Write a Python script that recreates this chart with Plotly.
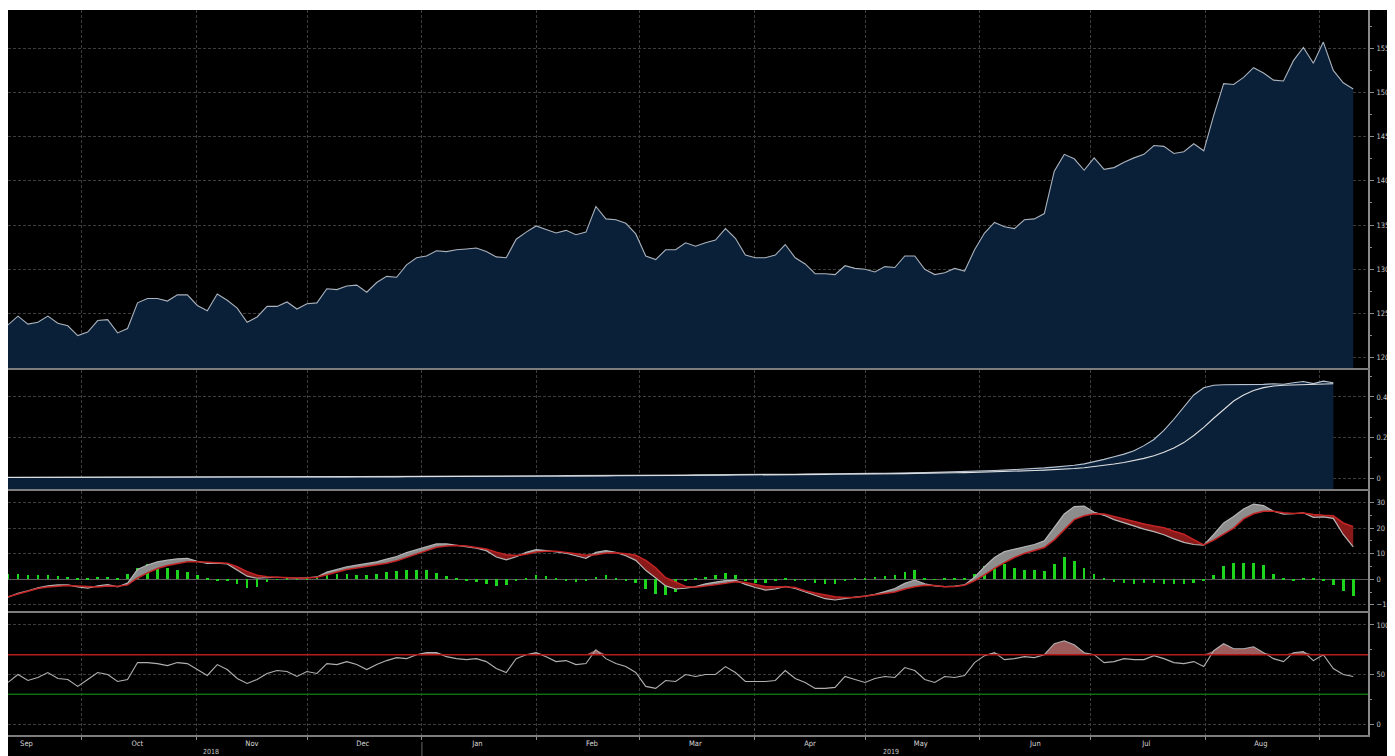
import numpy as np
import pandas as pd
import plotly.graph_objects as go
from plotly.subplots import make_subplots

# ---------------- data ----------------
start_date = "2018-09-11"
end_date = "2019-09-10"

price = [
    1237, 1247, 1238, 1240, 1247, 1239, 1236, 1225, 1229, 1242,
    1243, 1228, 1233, 1262, 1267, 1267, 1264, 1271, 1271, 1259,
    1253, 1272, 1265, 1256, 1240, 1246, 1258, 1258, 1263, 1255,
    1261, 1262, 1278, 1277, 1281, 1282, 1274, 1285, 1292, 1291,
    1305, 1313, 1315, 1321, 1320, 1322, 1323, 1324, 1320, 1314,
    1313, 1334, 1342, 1349, 1345, 1341, 1344, 1339, 1342, 1371,
    1357, 1356, 1352, 1340, 1315, 1311, 1322, 1322, 1330, 1326,
    1330, 1333, 1346, 1335, 1316, 1313, 1313, 1316, 1328, 1313,
    1306, 1295, 1295, 1294, 1304, 1301, 1300, 1297, 1303, 1302,
    1315, 1315, 1300, 1294, 1296, 1301, 1298, 1322, 1341, 1353,
    1348, 1346, 1356, 1357, 1363, 1411, 1430, 1425, 1412, 1426,
    1413, 1415, 1421, 1426, 1430, 1440, 1439, 1431, 1433, 1442,
    1434, 1474, 1510, 1509, 1517, 1528, 1522, 1514, 1513, 1536,
    1551, 1533, 1557, 1525, 1511, 1504,
]

volume_m = [
    0.004, 0.004, 0.004, 0.004, 0.004, 0.005, 0.005, 0.005, 0.005, 0.005,
    0.005, 0.005, 0.005, 0.005, 0.005, 0.005, 0.006, 0.006, 0.006, 0.006,
    0.006, 0.006, 0.006, 0.006, 0.006, 0.006, 0.007, 0.007, 0.007, 0.007,
    0.007, 0.007, 0.007, 0.007, 0.007, 0.008, 0.008, 0.008, 0.008, 0.008,
    0.008, 0.008, 0.009, 0.009, 0.009, 0.009, 0.009, 0.010, 0.010, 0.010,
    0.010, 0.010, 0.011, 0.011, 0.011, 0.011, 0.012, 0.012, 0.012, 0.012,
    0.013, 0.013, 0.013, 0.014, 0.014, 0.014, 0.015, 0.015, 0.015, 0.016,
    0.016, 0.016, 0.017, 0.017, 0.017, 0.018, 0.018, 0.019, 0.019, 0.019,
    0.020, 0.020, 0.021, 0.021, 0.022, 0.022, 0.023, 0.023, 0.024, 0.024,
    0.025, 0.026, 0.027, 0.028, 0.029, 0.030, 0.031, 0.033, 0.035, 0.037,
    0.039, 0.041, 0.044, 0.047, 0.050, 0.054, 0.058, 0.063, 0.070, 0.080,
    0.092, 0.105, 0.118, 0.135, 0.160, 0.190, 0.235, 0.290, 0.350, 0.410,
    0.445, 0.458, 0.460, 0.460, 0.461, 0.460, 0.462, 0.465, 0.463, 0.470,
    0.476, 0.466, 0.478, 0.470,
]

volume_ma_m = [
    0.003, 0.003, 0.003, 0.003, 0.003, 0.003, 0.003, 0.003, 0.003, 0.003,
    0.004, 0.004, 0.004, 0.004, 0.004, 0.004, 0.004, 0.004, 0.004, 0.004,
    0.005, 0.005, 0.005, 0.005, 0.005, 0.005, 0.005, 0.005, 0.005, 0.005,
    0.006, 0.006, 0.006, 0.006, 0.006, 0.006, 0.006, 0.006, 0.006, 0.006,
    0.007, 0.007, 0.007, 0.007, 0.007, 0.007, 0.007, 0.007, 0.007, 0.007,
    0.008, 0.008, 0.008, 0.009, 0.009, 0.009, 0.009, 0.010, 0.010, 0.010,
    0.010, 0.011, 0.011, 0.011, 0.012, 0.012, 0.012, 0.013, 0.013, 0.013,
    0.014, 0.014, 0.014, 0.015, 0.015, 0.015, 0.016, 0.016, 0.016, 0.017,
    0.017, 0.018, 0.018, 0.019, 0.019, 0.020, 0.020, 0.021, 0.021, 0.022,
    0.022, 0.023, 0.023, 0.024, 0.025, 0.026, 0.027, 0.028, 0.029, 0.030,
    0.032, 0.033, 0.035, 0.037, 0.039, 0.041, 0.044, 0.047, 0.051, 0.056,
    0.062, 0.069, 0.077, 0.086, 0.097, 0.110, 0.127, 0.148, 0.175, 0.210,
    0.250, 0.295, 0.340, 0.380, 0.410, 0.432, 0.446, 0.454, 0.458, 0.460,
    0.462, 0.463, 0.464, 0.465,
]

macd = [
    -7.0, -5.5, -4.5, -3.3, -2.6, -2.2, -2.2, -3.0, -3.5, -2.6,
    -2.1, -3.0, -1.5, 3.8, 5.6, 6.8, 7.5, 8.0, 8.2, 7.0,
    6.2, 6.3, 6.0, 3.6, 1.2, 0.4, 0.7, 0.8, 0.6, 0.4,
    0.6, 0.9, 2.8, 4.0, 4.9, 5.5, 6.1, 6.8, 7.9, 8.9,
    10.4, 11.6, 12.8, 13.8, 13.8, 13.3, 12.9, 12.2, 11.2, 8.7,
    7.6, 8.8, 10.5, 11.6, 11.2, 10.8, 10.2, 9.2, 8.2, 10.5,
    11.2, 10.5, 9.2, 7.4, 3.5, 0.5, -2.6, -3.8, -3.5, -2.9,
    -1.8, -1.1, -0.5, -0.4, -2.0, -3.2, -4.2, -3.8, -2.8, -3.6,
    -5.0, -6.3, -7.6, -8.1, -7.4, -7.0, -6.6, -5.9, -4.8, -3.6,
    -1.6, -0.3, -1.8, -2.6, -2.9, -2.7, -2.2, 0.8, 4.9, 8.5,
    10.8, 11.8, 12.7, 13.6, 15.0, 20.5, 25.5, 28.4, 28.6, 26.2,
    25.0, 23.3, 22.0, 20.6, 19.6, 18.6, 17.4, 15.8, 14.4, 13.6,
    13.3, 17.5, 22.0, 24.5, 27.5, 29.4, 28.8, 26.6, 25.5, 25.6,
    26.0, 24.2, 24.4, 23.8, 17.5, 12.7,
]

signal = [
    -6.8, -5.8, -4.8, -3.6, -3.0, -2.6, -2.4, -2.6, -2.9, -3.0,
    -2.6, -2.7, -2.2, 0.5, 2.5, 4.2, 5.4, 6.2, 6.8, 6.8,
    6.6, 6.5, 6.3, 4.9, 3.0, 1.6, 1.0, 0.8, 0.6, 0.5,
    0.5, 0.8, 1.8, 2.7, 3.8, 4.4, 5.0, 5.5, 6.3, 7.2,
    8.5, 9.8, 11.2, 12.5, 13.0, 13.2, 13.0, 12.4, 11.8, 10.6,
    9.6, 9.3, 9.8, 10.7, 11.0, 11.0, 10.6, 10.0, 9.4, 9.6,
    10.3, 10.4, 10.0, 9.4, 7.4, 4.5, 0.6, -1.2, -2.8, -3.1,
    -2.6, -2.3, -1.6, -1.0, -1.3, -2.0, -2.8, -3.0, -2.9, -3.2,
    -4.5, -5.4, -6.2, -6.8, -7.1, -7.1, -6.6, -6.1, -5.5, -5.0,
    -3.8, -2.9, -2.3, -2.4, -2.9, -2.8, -2.3, -0.6, 1.7, 4.3,
    6.5, 8.5, 10.1, 11.3, 12.4, 15.4, 19.5, 23.3, 24.8, 25.6,
    25.5, 24.5, 23.5, 22.6, 21.6, 20.8, 20.1, 18.8, 17.6, 15.5,
    13.4, 15.3, 17.8, 20.0, 23.6, 25.6, 26.6, 26.6, 26.0, 25.7,
    25.9, 25.3, 25.0, 24.8, 22.0, 20.5,
]

histogram = [
    2.0, 2.0, 1.8, 1.8, 1.6, 1.2, 0.8, 0.3, 0.5, 0.8,
    1.0, 0.3, 2.0, 4.5, 5.8, 5.2, 4.4, 3.6, 2.8, 1.5,
    0.2, -0.3, -0.5, -1.8, -3.4, -3.0, -1.2, -0.2, 0.2, 0.2,
    0.3, 0.8, 1.8, 2.2, 2.0, 1.6, 1.8, 2.2, 2.8, 3.2,
    3.6, 3.8, 3.5, 2.6, 1.4, 0.4, -0.5, -1.0, -1.8, -2.6,
    -2.4, -0.8, 0.6, 1.5, 1.2, 0.3, -0.4, -0.9, -0.6, 0.9,
    1.6, 0.4, -0.3, -1.5, -3.8, -5.8, -6.0, -4.8, -0.5, 0.5,
    1.0, 1.6, 2.3, 1.8, -0.6, -1.3, -1.5, -0.8, 0.3, -0.5,
    -0.8, -1.4, -2.0, -1.8, -0.6, 0.2, 0.6, 1.0, 1.3, 1.6,
    3.0, 3.6, 0.6, -0.2, 0.2, 0.3, 0.2, 2.0, 5.0, 7.0,
    6.0, 4.4, 3.8, 3.6, 3.4, 6.0, 8.6, 7.0, 4.5, 2.0,
    0.4, -1.0, -1.5, -1.8, -1.6, -1.4, -1.8, -2.0, -2.0, -1.6,
    -0.4, 1.6, 5.0, 6.2, 6.4, 6.2, 5.6, 2.2, 0.4, -0.8,
    0.3, 0.3, -0.8, -2.4, -4.5, -6.5,
]

rsi = [
    42, 50, 44, 47, 52, 46, 45, 38, 45, 52,
    50, 43, 45, 62, 62, 61, 59, 62, 61, 55,
    49, 60, 55, 46, 41, 45, 51, 54, 53, 48,
    53, 51, 61, 60, 63, 60, 55, 60, 64, 67,
    66, 70, 72, 72, 68, 66, 65, 66, 63, 56,
    52, 66, 70, 72, 68, 63, 64, 60, 61, 75,
    66, 61, 58, 52, 38, 36, 44, 43, 50, 48,
    50, 50, 58, 52, 43, 43, 43, 44, 54, 46,
    42, 36, 36, 37, 48, 45, 42, 46, 48, 47,
    57, 54, 45, 42, 48, 47, 49, 62, 69, 72,
    65, 66, 68, 67, 70, 81, 84, 80, 72, 70,
    62, 63, 66, 65, 65, 69, 66, 62, 61, 63,
    58, 74, 81, 76, 76, 78, 72, 66, 63, 72,
    73, 64, 70, 56, 50, 48,
]

rsi_upper = 70
rsi_lower = 30

price_ticks = [1200, 1250, 1300, 1350, 1400, 1450, 1500, 1550]
volume_ticks = [0, 0.2, 0.4]
volume_tick_text = ["0", "0.2M", "0.4M"]
macd_ticks = [-10, 0, 10, 20, 30]
rsi_ticks = [0, 50, 100]
year_labels = ["2018", "2019"]

# ---------------- derived ----------------
dates = pd.date_range(start_date, end_date, periods=len(price))
vdates = dates[:len(volume_m)]
month_starts = pd.date_range("2018-10-01", "2019-09-01", freq="MS")
label_dates = pd.date_range("2018-09-01", "2019-08-01", freq="MS") + pd.Timedelta(days=15)
month_text = [d.strftime("%b") for d in label_dates]

x_range = [pd.Timestamp("2018-09-11"), pd.Timestamp("2019-09-14")]
price_range = [1188.3, 1593.3]
vol_range = [-0.054, 0.533]
macd_range = [-12.4, 34.5]
rsi_range = [-11, 112]

macd_arr = np.array(macd)
sig_arr = np.array(signal)

BG = "#000000"
NAVY = "#0a1f38"
GRID = "#3c3c3c"
GDASH = "3px,2px"
AXIS = "#8a8a8a"
TXT = "#c4c4c4"
FONT = "Liberation Sans Narrow, DejaVu Sans Condensed, Arial Narrow, sans-serif"

fig = make_subplots(rows=4, cols=1, shared_xaxes=True)

# Panel 1: price area
fig.add_trace(go.Scatter(x=dates, y=price, mode="lines", fill="tozeroy",
                         fillcolor=NAVY, line=dict(color="#aab2bc", width=1.1)),
              row=1, col=1)

# Panel 2: volume area + moving average
fig.add_trace(go.Scatter(x=vdates, y=[vol_range[0]] * len(vdates), mode="lines",
                         line=dict(width=0, color=NAVY)), row=2, col=1)
fig.add_trace(go.Scatter(x=vdates, y=volume_m, mode="lines", fill="tonexty",
                         fillcolor=NAVY, line=dict(color="#b9c4d0", width=1.1)),
              row=2, col=1)
fig.add_trace(go.Scatter(x=vdates, y=volume_ma_m, mode="lines",
                         line=dict(color="#e0e0e0", width=1.1)), row=2, col=1)

# Panel 3: MACD
fig.add_trace(go.Bar(x=dates, y=histogram, marker=dict(color="#1ed41e", line=dict(width=0)),
                     width=0.7 * 86400000), row=3, col=1)
fig.add_trace(go.Scatter(x=dates, y=signal, mode="lines", line=dict(width=0)), row=3, col=1)
fig.add_trace(go.Scatter(x=dates, y=np.maximum(macd_arr, sig_arr), mode="lines",
                         fill="tonexty", fillcolor="#8d8d8d", line=dict(width=0)), row=3, col=1)
fig.add_trace(go.Scatter(x=dates, y=np.minimum(macd_arr, sig_arr), mode="lines",
                         line=dict(width=0)), row=3, col=1)
fig.add_trace(go.Scatter(x=dates, y=signal, mode="lines", fill="tonexty",
                         fillcolor="#8a1a1a", line=dict(width=0)), row=3, col=1)
fig.add_trace(go.Scatter(x=dates, y=macd, mode="lines",
                         line=dict(color="#b5b5b5", width=1.2)), row=3, col=1)
fig.add_trace(go.Scatter(x=dates, y=signal, mode="lines",
                         line=dict(color="#c42424", width=1.5)), row=3, col=1)

# Panel 4: RSI
fig.add_trace(go.Scatter(x=dates, y=[rsi_upper] * len(dates), mode="lines",
                         line=dict(width=0)), row=4, col=1)
fig.add_trace(go.Scatter(x=dates, y=np.maximum(np.array(rsi), rsi_upper), mode="lines",
                         fill="tonexty", fillcolor="#9c5c5c", line=dict(width=0)), row=4, col=1)
fig.add_hline(y=rsi_upper, line=dict(color="#b41c1c", width=1.5), row=4, col=1)
fig.add_hline(y=rsi_lower, line=dict(color="#116b11", width=1.5), row=4, col=1)
fig.add_trace(go.Scatter(x=dates, y=rsi, mode="lines",
                         line=dict(color="#b0b0b0", width=1.1)), row=4, col=1)

# ---------------- layout ----------------
# The page body adds an 8 px white margin; panel edges below are page pixels.
H = 725.0
domains = [
    [(735 - 368) / H, 1.0],
    [(735 - 489) / H, (735 - 370) / H],
    [(735 - 611) / H, (735 - 491) / H],
    [0.0, (735 - 613) / H],
]
yconf = [
    dict(range=price_range, tickvals=price_ticks, minor=dict(dtick=25, ticks="outside", ticklen=2, tickcolor=AXIS)),
    dict(range=vol_range, tickvals=volume_ticks, ticktext=volume_tick_text,
         minor=dict(dtick=0.1, ticks="outside", ticklen=2, tickcolor=AXIS)),
    dict(range=macd_range, tickvals=macd_ticks, zeroline=True, zerolinecolor="#5a5a5a", zerolinewidth=1,
         minor=dict(dtick=5, ticks="outside", ticklen=2, tickcolor=AXIS)),
    dict(range=rsi_range, tickvals=rsi_ticks, minor=dict(dtick=25, ticks="outside", ticklen=2, tickcolor=AXIS)),
]

for i in range(4):
    yname = "yaxis" if i == 0 else f"yaxis{i + 1}"
    xname = "xaxis" if i == 0 else f"xaxis{i + 1}"
    yc = dict(domain=domains[i], side="right", showline=True, linecolor=AXIS, linewidth=2,
              ticks="outside", ticklen=4, tickcolor=AXIS, showgrid=True, gridcolor=GRID,
              griddash=GDASH, gridwidth=1, tickfont=dict(size=7.5, color=TXT, family=FONT),
              ticklabelstandoff=1,
              automargin=False, fixedrange=True, zeroline=yconf[i].get("zeroline", False))
    yc.update(yconf[i])
    fig.layout[yname].update(yc)
    last = i == 3
    fig.layout[xname].update(
        type="date", range=x_range, showline=True, linecolor="#7d7d7d", linewidth=2,
        tickmode="array", tickvals=label_dates, ticktext=month_text,
        showticklabels=last, ticks="", showgrid=False, zeroline=False,
        tickfont=dict(size=7.5, color="#d8d8d8", family=FONT),
        minor=dict(tickmode="array", tickvals=month_starts, showgrid=True, gridcolor=GRID,
                   griddash=GDASH, gridwidth=1, ticks="outside" if last else "",
                   ticklen=3, tickcolor=AXIS),
        automargin=False, fixedrange=True)

annotations = []
year_centers = [pd.Timestamp("2018-11-05"), pd.Timestamp("2019-05-08")]
for yl, xc in zip(year_labels, year_centers):
    annotations.append(dict(x=xc, xref="x4", y=-(752 - 735) / H, yref="paper", text=yl,
                            showarrow=False, font=dict(size=7, color="#c8c8c8", family=FONT),
                            xanchor="center", yanchor="middle"))

shapes = list(fig.layout.shapes) + [
    dict(type="line", xref="x4", yref="paper", x0=pd.Timestamp("2019-01-01"),
         x1=pd.Timestamp("2019-01-01"), y0=-(742 - 735) / H, y1=-(760 - 735) / H,
         line=dict(color="#6a6a6a", width=1)),
    # thin white strip at the very top (screenshot border)
    dict(type="rect", xref="paper", yref="paper", x0=-0.1, x1=1.1, y0=1.0, y1=1.1,
         fillcolor="white", line=dict(width=0), layer="above"),
]

fig.update_layout(
    width=1387, height=748,
    margin=dict(l=0, r=27, t=2, b=21, autoexpand=False),
    paper_bgcolor=BG, plot_bgcolor=BG,
    showlegend=False, hovermode=False, bargap=0,
    annotations=annotations, shapes=shapes,
    font=dict(family=FONT, color=TXT),
)

fig.write_html("out.html")
